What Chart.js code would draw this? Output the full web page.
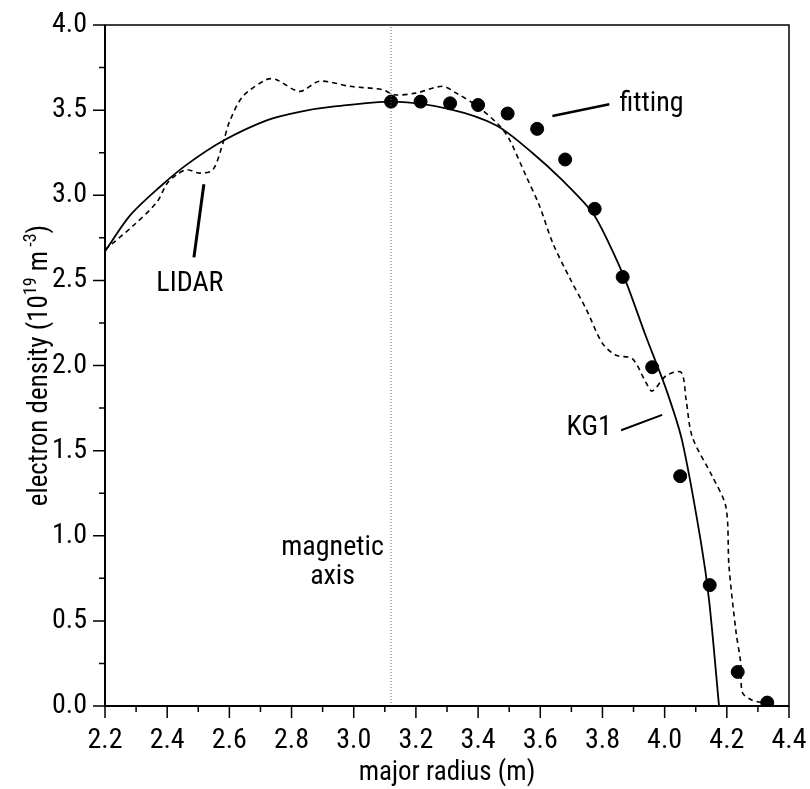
<!DOCTYPE html>
<html>
<head>
<meta charset="utf-8">
<script src="https://cdn.jsdelivr.net/npm/chart.js@4.4.0/dist/chart.umd.min.js"></script>
<style>
  html, body { margin: 0; padding: 0; background: #fff; }
  #wrap { width: 810px; height: 789px; }
</style>
</head>
<body>
<div id="wrap"><canvas id="grafico"></canvas></div>
<script>
// major radius (m) / electron density (1e19 m^-3)
var fitR   = [3.12, 3.215, 3.31, 3.40, 3.495, 3.59, 3.68, 3.775, 3.865, 3.96, 4.05, 4.145, 4.235, 4.33];
var fitNe  = [3.55, 3.55, 3.54, 3.53, 3.48, 3.39, 3.21, 2.92, 2.52, 1.99, 1.35, 0.71, 0.20, 0.02];

var kg1R   = [2.2, 2.28, 2.377, 2.463, 2.58, 2.72, 2.826, 2.932, 3.13, 3.308, 3.459, 3.574, 3.67, 3.767, 3.82, 3.876, 3.94, 4.005, 4.056, 4.117, 4.143, 4.175];
var kg1Ne  = [2.67, 2.88, 3.05, 3.18, 3.32, 3.44, 3.49, 3.52, 3.55, 3.506, 3.41, 3.25, 3.09, 2.9, 2.72, 2.49, 2.17, 1.86, 1.56, 0.96, 0.62, 0.0];

var lidarR  = [2.2, 2.29, 2.367, 2.40, 2.43, 2.463, 2.505, 2.547, 2.58, 2.60, 2.643, 2.72, 2.75, 2.826, 2.89, 2.987, 3.093, 3.13, 3.20, 3.286, 3.33, 3.40, 3.468, 3.5, 3.555, 3.597, 3.64, 3.693, 3.748, 3.8, 3.844, 3.896, 3.94, 3.96, 4.005, 4.053, 4.069, 4.089, 4.153, 4.197, 4.207, 4.23, 4.245, 4.25, 4.28, 4.313];
var lidarNe = [2.68, 2.82, 2.96, 3.07, 3.12, 3.15, 3.13, 3.15, 3.31, 3.43, 3.58, 3.68, 3.68, 3.61, 3.67, 3.64, 3.62, 3.59, 3.60, 3.64, 3.60, 3.52, 3.41, 3.33, 3.11, 2.94, 2.72, 2.52, 2.33, 2.13, 2.06, 2.04, 1.90, 1.85, 1.94, 1.96, 1.80, 1.58, 1.35, 1.17, 0.82, 0.43, 0.25, 0.08, 0.035, 0.02];

var magneticAxisR = 3.12;

var xTicks = [2.2, 2.4, 2.6, 2.8, 3.0, 3.2, 3.4, 3.6, 3.8, 4.0, 4.2, 4.4];
var yTicks = [0.0, 0.5, 1.0, 1.5, 2.0, 2.5, 3.0, 3.5, 4.0];

function pares(xs, ys) {
  return xs.map(function (x, i) { return { x: x, y: ys[i] }; });
}

var fuente = '"Roboto Condensed", "DejaVu Sans Condensed", sans-serif';

// marco, marcas menores/mayores, titulo del eje y y los textos
var adornos = {
  id: 'adornos',
  afterDraw: function (chart) {
    var ctx = chart.ctx;
    var xs = chart.scales.x, ys = chart.scales.y;
    var a = chart.chartArea;
    ctx.save();
    ctx.strokeStyle = '#000';
    ctx.lineWidth = 1.5;
    ctx.strokeRect(a.left, a.top, a.right - a.left, a.bottom - a.top);
    ctx.lineWidth = 2;
    ctx.beginPath();
    ctx.moveTo(a.left, a.top);
    ctx.lineTo(a.left, a.bottom);
    ctx.lineTo(a.right, a.bottom);
    ctx.stroke();

    ctx.lineWidth = 1.5;
    ctx.beginPath();
    for (var i = 0; i <= 22; i++) {
      var px = xs.getPixelForValue(2.2 + i * 0.1);
      ctx.moveTo(px, a.bottom);
      ctx.lineTo(px, a.bottom + ((i % 2 === 0) ? 12 : 6));
    }
    for (var j = 0; j <= 16; j++) {
      var py = ys.getPixelForValue(j * 0.25);
      ctx.moveTo(a.left, py);
      ctx.lineTo(a.left - ((j % 2 === 0) ? 12 : 6), py);
    }
    ctx.stroke();

    ctx.fillStyle = '#000';
    // titulo eje y con superindices
    var partes = [['electron density (10', 27, 0], ['19', 18, -11], [' m', 27, 0], [' -3', 18, -11], [')', 27, 0]];
    var total = 0;
    partes.forEach(function (p) { ctx.font = p[1] + 'px ' + fuente; total += ctx.measureText(p[0]).width; });
    ctx.translate(38, (a.top + a.bottom) / 2);
    ctx.rotate(-Math.PI / 2);
    ctx.textBaseline = 'alphabetic';
    ctx.textAlign = 'left';
    var cx = -total / 2;
    partes.forEach(function (p) {
      ctx.font = p[1] + 'px ' + fuente;
      ctx.fillText(p[0], cx, 9 + p[2]);
      cx += ctx.measureText(p[0]).width;
    });
    ctx.setTransform(1, 0, 0, 1, 0, 0);

    function P(x, y) { return [xs.getPixelForValue(x), ys.getPixelForValue(y)]; }
    function linea(x1, y1, x2, y2, ancho) {
      var p = P(x1, y1), q = P(x2, y2);
      ctx.lineWidth = ancho;
      ctx.beginPath();
      ctx.moveTo(p[0], p[1]);
      ctx.lineTo(q[0], q[1]);
      ctx.stroke();
    }
    function texto(t, x, y, alin) {
      var p = P(x, y);
      ctx.textAlign = alin;
      ctx.fillText(t, p[0], p[1]);
    }
    ctx.font = '28px ' + fuente;
    ctx.textBaseline = 'middle';
    linea(2.518, 3.065, 2.486, 2.635, 3);
    texto('LIDAR', 2.473, 2.48, 'center');
    linea(3.639, 3.465, 3.822, 3.535, 2.5);
    texto('fitting', 3.855, 3.535, 'left');
    linea(3.86, 1.62, 3.992, 1.71, 2);
    texto('KG1', 3.83, 1.635, 'right');
    texto('magnetic', 2.932, 0.93, 'center');
    texto('axis', 2.932, 0.76, 'center');
    ctx.restore();
  }
};

var chart = new Chart(document.getElementById('grafico'), {
  type: 'scatter',
  data: {
    datasets: [
      {
        label: 'magnetic axis',
        data: [{ x: magneticAxisR, y: 0 }, { x: magneticAxisR, y: 4 }],
        showLine: true,
        borderColor: '#666',
        borderWidth: 1,
        borderDash: [1, 2],
        pointRadius: 0
      },
      {
        label: 'LIDAR',
        data: pares(lidarR, lidarNe),
        showLine: true,
        borderColor: '#000',
        borderWidth: 1.6,
        borderDash: [5, 4],
        pointRadius: 0,
        tension: 0.3
      },
      {
        label: 'KG1',
        data: pares(kg1R, kg1Ne),
        showLine: true,
        borderColor: '#000',
        borderWidth: 1.8,
        pointRadius: 0,
        tension: 0.3
      },
      {
        label: 'fitting',
        data: pares(fitR, fitNe),
        showLine: false,
        backgroundColor: '#000',
        borderColor: '#000',
        pointRadius: 6.5,
        pointHoverRadius: 6.5
      }
    ]
  },
  options: {
    responsive: true,
    maintainAspectRatio: false,
    animation: { duration: 0 },
    events: [],
    layout: { padding: { top: 25, right: 21, left: 0, bottom: 0 } },
    plugins: {
      legend: { display: false },
      tooltip: { enabled: false }
    },
    scales: {
      x: {
        type: 'linear',
        min: 2.2,
        max: 4.4,
        grid: { display: false, drawTicks: true, tickLength: 18 },
        border: { display: false },
        afterBuildTicks: function (s) { s.ticks = xTicks.map(function (v) { return { value: v }; }); },
        afterFit: function (s) { s.height = 83; },
        ticks: {
          color: '#000',
          padding: 0,
          font: { family: fuente, size: 28 },
          maxRotation: 0,
          callback: function (v) { return v.toFixed(1); }
        },
        title: {
          display: true,
          text: 'major radius (m)',
          color: '#000',
          font: { family: fuente, size: 27 },
          padding: { top: 0, bottom: 0 }
        }
      },
      y: {
        type: 'linear',
        min: 0,
        max: 4,
        grid: { display: false, drawTicks: true, tickLength: 18 },
        border: { display: false },
        afterBuildTicks: function (s) { s.ticks = yTicks.map(function (v) { return { value: v }; }); },
        afterFit: function (s) { s.width = 105; },
        ticks: {
          color: '#000',
          padding: 0,
          font: { family: fuente, size: 28 },
          callback: function (v) { return v.toFixed(1); }
        },
        title: { display: false }
      }
    }
  },
  plugins: [adornos]
});
</script>
</body>
</html>
